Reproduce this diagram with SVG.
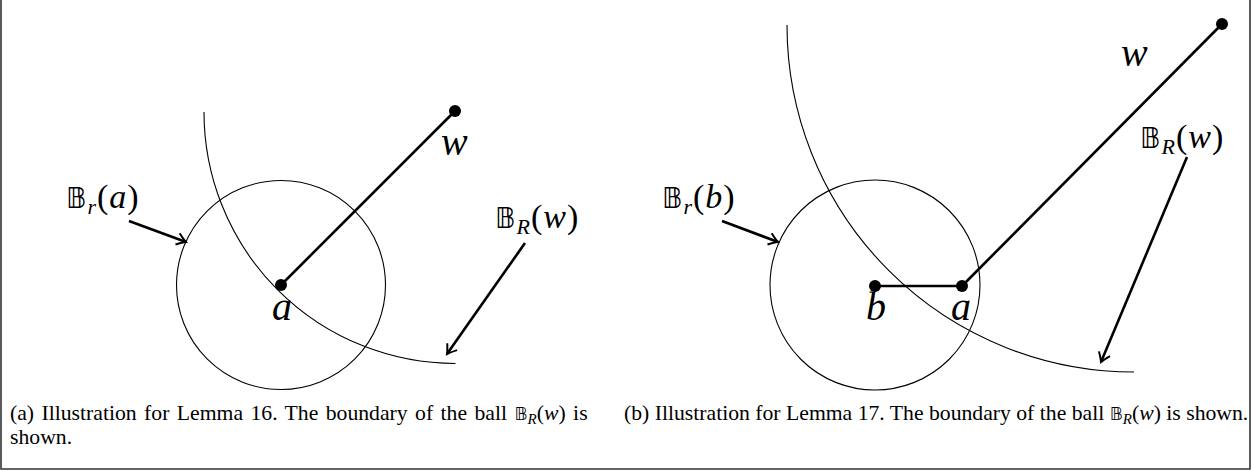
<svg xmlns="http://www.w3.org/2000/svg" width="1252" height="471" viewBox="0 0 1252 471">
<style>
.frame{fill:none;stroke:#333;stroke-width:1.6}
.thin{fill:none;stroke:#000;stroke-width:1.1}
.thick{fill:none;stroke:#000;stroke-width:2.6}
.arr{fill:none;stroke:#000;stroke-width:2.6;marker-end:url(#ah)}
.dot{fill:#000}
.lbl{font-family:"Liberation Serif",serif;font-style:italic;font-size:40px;fill:#000}
.ball{font-family:"Liberation Serif",serif;font-size:34px;letter-spacing:1px;fill:#000}
.bb{font-family:"DejaVu Sans",sans-serif;font-style:normal;font-size:28px}
.it{font-style:italic}
.sub{font-style:italic;font-size:22px}
.cap{font-family:"Liberation Serif",serif;font-size:21.7px;fill:#000}
.cbb{font-family:"DejaVu Sans",sans-serif;font-size:18px}
.csub{font-style:italic;font-size:15px}
</style>
<defs>
<marker id="ah" markerUnits="userSpaceOnUse" orient="auto" markerWidth="20" markerHeight="20" refX="0" refY="0" viewBox="-12 -10 14 20" overflow="visible">
<path d="M -9 -6 Q -3 -1.5 0 0 Q -3 1.5 -9 6" fill="none" stroke="#000" stroke-width="2"/>
</marker>
</defs>
<path class="frame" d="M1 0 V469 H1250 V0"/>

<g id="panel-a">
  <circle id="ball-r-a" class="thin" cx="281" cy="285" r="104.5"/>
  <path id="ball-R-w-a" class="thin" d="M 204 112 A 251.5 251.5 0 0 0 455.5 363.5"/>
  <g id="connectors-a">
    <line class="thick" x1="281" y1="285" x2="455" y2="111"/>
    <line class="arr" x1="129" y1="221" x2="186" y2="242"/>
    <line class="arr" x1="525" y1="243" x2="447" y2="354"/>
  </g>
  <g id="node-a-a"><circle class="dot" cx="281" cy="285" r="6"/><text class="lbl" x="272" y="320">a</text></g>
  <g id="node-w-a"><circle class="dot" cx="455" cy="111" r="6"/><text class="lbl" x="441" y="155">w</text></g>
  <text class="ball" x="66" y="208"><tspan class="bb">𝔹</tspan><tspan class="sub" dy="6">r</tspan><tspan dy="-6">(</tspan><tspan class="it">a</tspan>)</text>
  <text class="ball" x="495" y="228"><tspan class="bb">𝔹</tspan><tspan class="sub" dy="6">R</tspan><tspan dy="-6">(</tspan><tspan class="it">w</tspan>)</text>
  <text class="cap" x="10" y="420" word-spacing="2">(a) Illustration for Lemma 16. The boundary of the ball <tspan class="cbb">𝔹</tspan><tspan class="csub" dy="4">R</tspan><tspan dy="-4">(</tspan><tspan class="it">w</tspan>) is</text>
  <text class="cap" x="10" y="444">shown.</text>
</g>

<g id="panel-b">
  <circle id="ball-r-b" class="thin" cx="875" cy="285" r="105"/>
  <path id="ball-R-w-b" class="thin" d="M 787 25 A 347 347 0 0 0 1134 372"/>
  <g id="connectors-b">
    <line class="thick" x1="875" y1="286" x2="962" y2="286"/>
    <line class="thick" x1="962" y1="286" x2="1222" y2="24"/>
    <line class="arr" x1="722" y1="221" x2="778" y2="242"/>
    <line class="arr" x1="1187" y1="157" x2="1101" y2="362"/>
  </g>
  <g id="node-b"><circle class="dot" cx="875" cy="286" r="6"/><text class="lbl" x="866" y="320">b</text></g>
  <g id="node-a-b"><circle class="dot" cx="962" cy="286" r="6"/><text class="lbl" x="951" y="320">a</text></g>
  <g id="node-w-b"><circle class="dot" cx="1222" cy="24" r="6"/><text class="lbl" x="1121" y="66">w</text></g>
  <text class="ball" x="662" y="208"><tspan class="bb">𝔹</tspan><tspan class="sub" dy="6">r</tspan><tspan dy="-6">(</tspan><tspan class="it">b</tspan>)</text>
  <text class="ball" x="1140" y="148"><tspan class="bb">𝔹</tspan><tspan class="sub" dy="6">R</tspan><tspan dy="-6">(</tspan><tspan class="it">w</tspan>)</text>
  <text class="cap" x="624" y="420">(b) Illustration for Lemma 17. The boundary of the ball <tspan class="cbb">𝔹</tspan><tspan class="csub" dy="4">R</tspan><tspan dy="-4">(</tspan><tspan class="it">w</tspan>) is shown.</text>
</g>
</svg>
